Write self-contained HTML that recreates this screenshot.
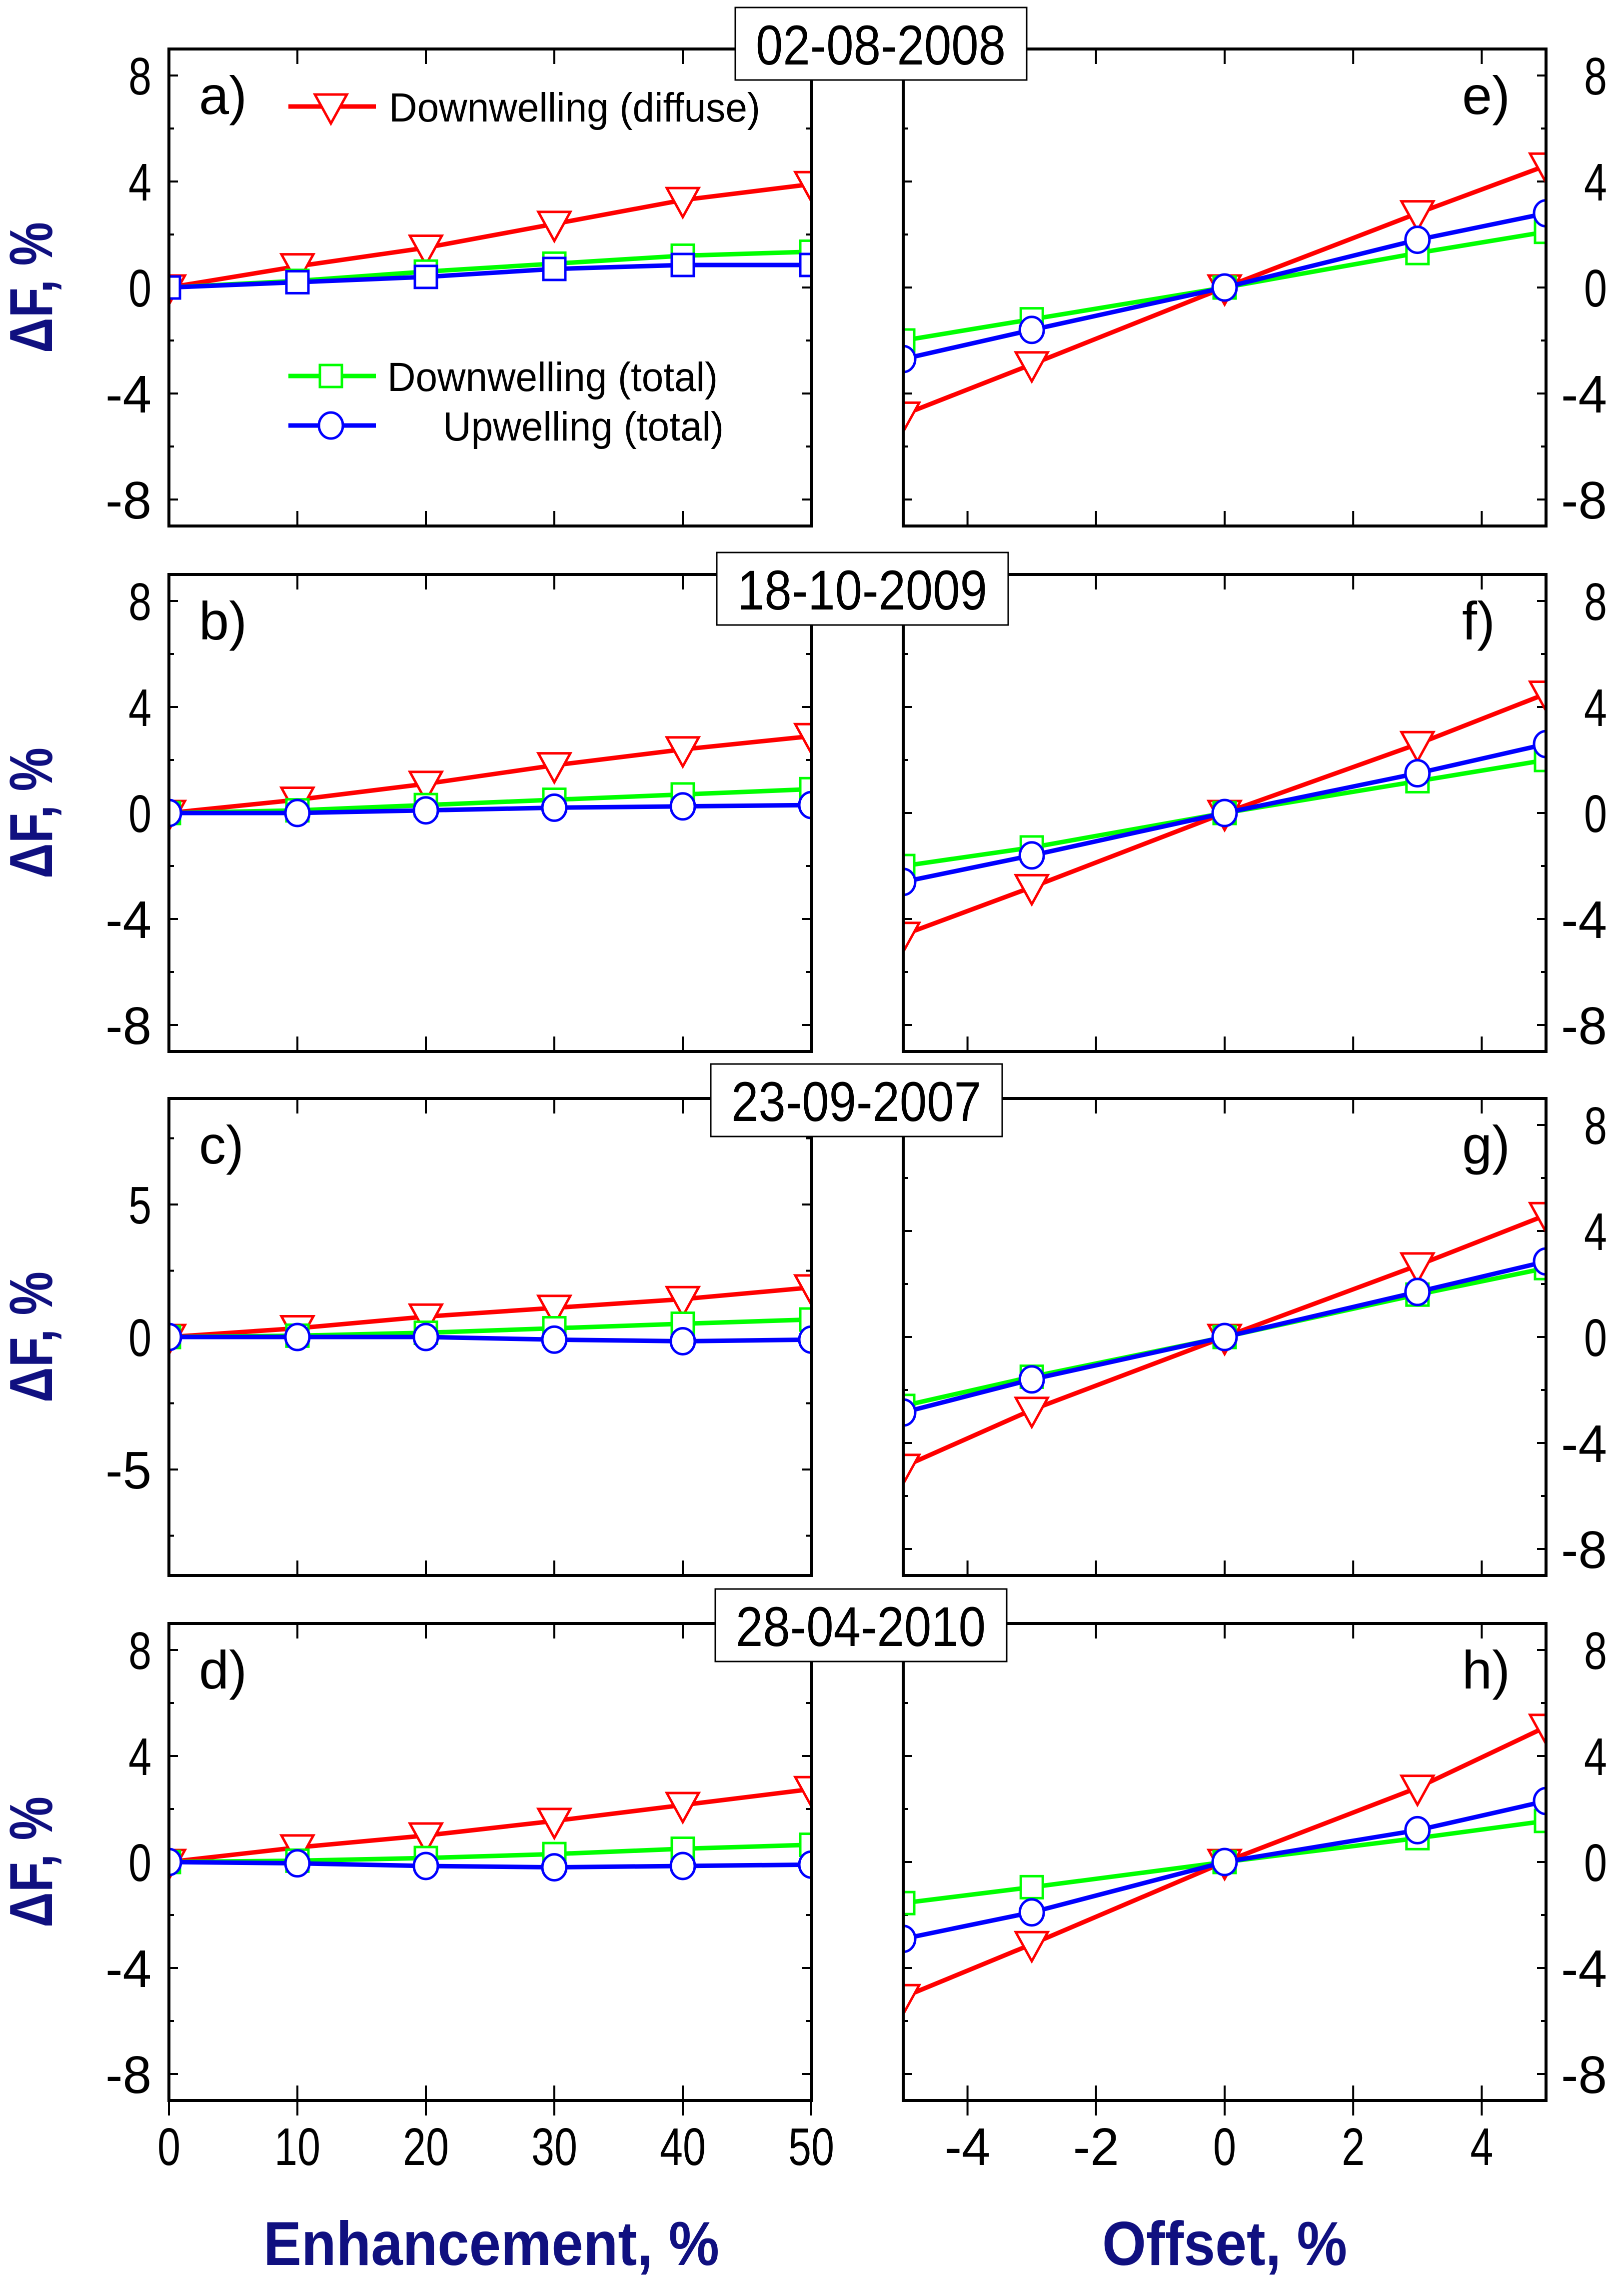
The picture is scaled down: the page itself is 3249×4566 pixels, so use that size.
<!DOCTYPE html>
<html><head><meta charset="utf-8"><style>
html,body{margin:0;padding:0;background:#fff;}
svg{display:block;}
text{font-family:"Liberation Sans",sans-serif;}
</style></head><body>
<svg id="fig" width="3249" height="4566" viewBox="0 0 3249 4566" xmlns="http://www.w3.org/2000/svg"></svg>
<script>
// ---- data ----
const enhX = [0, 10, 20, 30, 40, 50];
const offX = [-5, -3, 0, 3, 5];
const dates = ["02-08-2008", "18-10-2009", "23-09-2007", "28-04-2010"];
const leftLetters = ["a)", "b)", "c)", "d)"];
const rightLetters = ["e)", "f)", "g)", "h)"];
// enhancement panels (a-d)
const aRed = [0, 0.8, 1.5, 2.4, 3.3, 3.9];
const aGreen = [0, 0.25, 0.6, 0.9, 1.2, 1.35];
const aBlue = [0, 0.2, 0.4, 0.7, 0.85, 0.85];
const bRed = [0, 0.5, 1.1, 1.8, 2.4, 2.9];
const bGreen = [0, 0.1, 0.3, 0.5, 0.7, 0.9];
const bBlue = [0, 0, 0.1, 0.2, 0.25, 0.3];
const cRed = [0, 0.33, 0.77, 1.1, 1.43, 1.87];
const cGreen = [0, 0.05, 0.16, 0.33, 0.5, 0.66];
const cBlue = [0, 0, 0, -0.1, -0.16, -0.1];
const dRed = [0, 0.55, 1.0, 1.55, 2.15, 2.75];
const dGreen = [0, 0.05, 0.15, 0.3, 0.5, 0.65];
const dBlue = [0, -0.05, -0.15, -0.2, -0.15, -0.1];
// offset panels (e-h)
const eRed = [-4.8, -2.9, 0, 2.8, 4.6];
const eGreen = [-2.0, -1.2, 0, 1.3, 2.1];
const eBlue = [-2.7, -1.6, 0, 1.8, 2.8];
const fRed = [-4.6, -2.8, 0, 2.6, 4.5];
const fGreen = [-2.0, -1.3, 0, 1.2, 2.0];
const fBlue = [-2.6, -1.6, 0, 1.5, 2.6];
const gRed = [-4.9, -2.75, 0, 2.7, 4.6];
const gGreen = [-2.6, -1.5, 0, 1.6, 2.6];
const gBlue = [-2.85, -1.6, 0, 1.7, 2.85];
const hRed = [-5.1, -3.1, 0, 2.8, 5.1];
const hGreen = [-1.55, -0.95, 0, 0.9, 1.55];
const hBlue = [-2.9, -1.9, 0, 1.2, 2.3];
const enhTicks = [0, 10, 20, 30, 40, 50];
const offTicks = [-4, -2, 0, 2, 4];
const yTicksStd = [-8, -4, 0, 4, 8];
const yTicksC = [-5, 0, 5];

// ---- layout ----
const NS = "http://www.w3.org/2000/svg";
const svg = document.getElementById("fig");
const rowTop = [98, 1149, 2197, 3247];
const rowH = 954;
const L = {x0: 338, x1: 1623};
const R = {x0: 1807, x1: 3093};
const yMin = -9, yMax = 9;
const dateBoxY = [15, 1105, 2128, 3178];
const dateBoxX = [1471, 1434, 1422, 1431];

function mk(tag, attrs, parent) {
  const e = document.createElementNS(NS, tag);
  for (const k in attrs) e.setAttribute(k, attrs[k]);
  (parent || svg).appendChild(e);
  return e;
}
function txt(str, x, y, size, anchor, parent, extra) {
  const t = mk("text", Object.assign({x: x, y: y, "font-size": size, "text-anchor": anchor || "start", fill: "#000"}, extra || {}), parent);
  t.textContent = str;
  return t;
}
function tickLen(s) { return 46 * s.length; }

function drawPanel(idx, side, xs, reds, greens, blues, xTicks, xMinV, xMaxV, yTicks, letter, blueSquare) {
  const P = side === "L" ? L : R;
  const top = rowTop[idx], bot = top + rowH;
  const g = mk("g", {});
  
  
  const sx = v => P.x0 + (v - xMinV) / (xMaxV - xMinV) * (P.x1 - P.x0);
  const sy = v => bot - (v - yMin) / (yMax - yMin) * rowH;
  const cid = "clip" + idx + side;
  const cp = mk("clipPath", {id: cid}, g);
  mk("rect", {x: P.x0, y: top, width: P.x1 - P.x0, height: rowH}, cp);
  if (yTicks === yTicksC) {
    for (const v of [-7.5, -5, -2.5, 0, 2.5, 5, 7.5]) {
      const y = sy(v), len = (v % 5 === 0) ? 18 : 10;
      mk("line", {x1: P.x0, x2: P.x0 + len, y1: y, y2: y, stroke: "#000", "stroke-width": 4}, g);
      mk("line", {x1: P.x1, x2: P.x1 - len, y1: y, y2: y, stroke: "#000", "stroke-width": 4}, g);
    }
  } else {
    for (let v = -8; v <= 8; v += 2) {
      const y = sy(v);
      const len = (v % 4 === 0) ? 18 : 10;
      mk("line", {x1: P.x0, x2: P.x0 + len, y1: y, y2: y, stroke: "#000", "stroke-width": 4}, g);
      mk("line", {x1: P.x1, x2: P.x1 - len, y1: y, y2: y, stroke: "#000", "stroke-width": 4}, g);
    }
  }
  for (const v of xTicks) {
    const x = sx(v);
    mk("line", {x1: x, x2: x, y1: top, y2: top + 30, stroke: "#000", "stroke-width": 4}, g);
    mk("line", {x1: x, x2: x, y1: bot, y2: bot - 30, stroke: "#000", "stroke-width": 4}, g);
    if (idx === 3) {
      mk("line", {x1: x, x2: x, y1: bot, y2: bot + 30, stroke: "#000", "stroke-width": 4}, g);
      const s = String(v);
      const lab = txt(s, x, 4330, 106, "middle", g, {textLength: tickLen(s), lengthAdjust: "spacingAndGlyphs"});
      
      
    }
  }
  for (const v of yTicks) {
    const lx = side === "L" ? 303 : 3215;
    const s = String(v);
    const lab = txt(s, lx, sy(v) + 38, 106, "end", g, {textLength: tickLen(s), lengthAdjust: "spacingAndGlyphs"});
    
    
  }
  const cg = mk("g", {"clip-path": "url(#" + cid + ")"}, g);
  const series = [["red", reds, "tri"], ["#00ff00", greens, "sq"], ["blue", blues, blueSquare ? "sq" : "circ"]];
  for (const [col, vals, mkType] of series) {
    const sg = mk("g", {}, cg);
    
    
    const pts = vals.map((v, i) => sx(xs[i]) + "," + sy(v)).join(" ");
    mk("polyline", {points: pts, fill: "none", stroke: col, "stroke-width": 9, "stroke-linejoin": "round"}, sg);
    vals.forEach((v, i) => drawMarker(sg, mkType, sx(xs[i]), sy(v), col));
  }
  mk("rect", {x: P.x0, y: top, width: P.x1 - P.x0, height: rowH, fill: "none", stroke: "#000", "stroke-width": 6}, g);
  const lt = txt(letter, side === "L" ? 398 : 2925, top + 130, 108, "start", g);
  
  
}
function drawMarker(parent, type, x, y, col) {
  let m;
  if (type === "tri") {
    m = mk("polygon", {points: (x - 32) + "," + (y - 24) + " " + (x + 32) + "," + (y - 24) + " " + x + "," + (y + 34), fill: "#fff", stroke: col, "stroke-width": 5}, parent);
  } else if (type === "sq") {
    m = mk("rect", {x: x - 22, y: y - 22, width: 44, height: 44, fill: "#fff", stroke: col, "stroke-width": 5}, parent);
  } else {
    m = mk("ellipse", {cx: x, cy: y, rx: 24, ry: 26, fill: "#fff", stroke: col, "stroke-width": 5}, parent);
  }
  
  
}

drawPanel(0, "L", enhX, aRed, aGreen, aBlue, [10, 20, 30, 40], 0, 50, yTicksStd, "a)", true);
drawPanel(1, "L", enhX, bRed, bGreen, bBlue, [10, 20, 30, 40], 0, 50, yTicksStd, "b)", false);
drawPanel(2, "L", enhX, cRed, cGreen, cBlue, [10, 20, 30, 40], 0, 50, yTicksC, "c)", false);
drawPanel(3, "L", enhX, dRed, dGreen, dBlue, enhTicks, 0, 50, yTicksStd, "d)", false);
drawPanel(0, "R", offX, eRed, eGreen, eBlue, offTicks, -5, 5, yTicksStd, "e)", false);
drawPanel(1, "R", offX, fRed, fGreen, fBlue, offTicks, -5, 5, yTicksStd, "f)", false);
drawPanel(2, "R", offX, gRed, gGreen, gBlue, offTicks, -5, 5, yTicksStd, "g)", false);
drawPanel(3, "R", offX, hRed, hGreen, hBlue, offTicks, -5, 5, yTicksStd, "h)", false);

dates.forEach((d, i) => {
  const g = mk("g", {});
  
  
  mk("rect", {x: dateBoxX[i], y: dateBoxY[i], width: 583, height: 145, fill: "#fff", stroke: "#000", "stroke-width": 3}, g);
  txt(d, dateBoxX[i] + 291, dateBoxY[i] + 114, 112, "middle", g, {textLength: 500, lengthAdjust: "spacingAndGlyphs"});
});

rowTop.forEach((t, i) => {
  const cy = t + rowH / 2;
  const yt = txt("ΔF, %", 0, 0, 122, "middle", null, {fill: "#101080", "font-weight": "bold", transform: "translate(104," + cy + ") rotate(-90)", textLength: 262, lengthAdjust: "spacingAndGlyphs"});
  
  
});
const xt1 = txt("Enhancement, %", 983, 4530, 124, "middle", null, {fill: "#101080", "font-weight": "bold", textLength: 912, lengthAdjust: "spacingAndGlyphs"});


const xt2 = txt("Offset, %", 2450, 4530, 124, "middle", null, {fill: "#101080", "font-weight": "bold", textLength: 490, lengthAdjust: "spacingAndGlyphs"});



const lg = mk("g", {});


const legendEntries = [
  ["red", "tri", 213, "Downwelling (diffuse)", 778, 743],
  ["#00ff00", "sq", 752, "Downwelling (total)", 775, 661],
  ["blue", "circ", 851, "Upwelling (total)", 886, 562]
];
legendEntries.forEach(([col, type, y, label, tx, tl]) => {
  const eg = mk("g", {}, lg);
  
  
  mk("line", {x1: 577, x2: 752, y1: y, y2: y, stroke: col, "stroke-width": 9}, eg);
  drawMarker(eg, type, 662, y, col);
  txt(label, tx, y + 30, 82, "start", eg, {textLength: tl, lengthAdjust: "spacingAndGlyphs"});
});
</script>
</body></html>
